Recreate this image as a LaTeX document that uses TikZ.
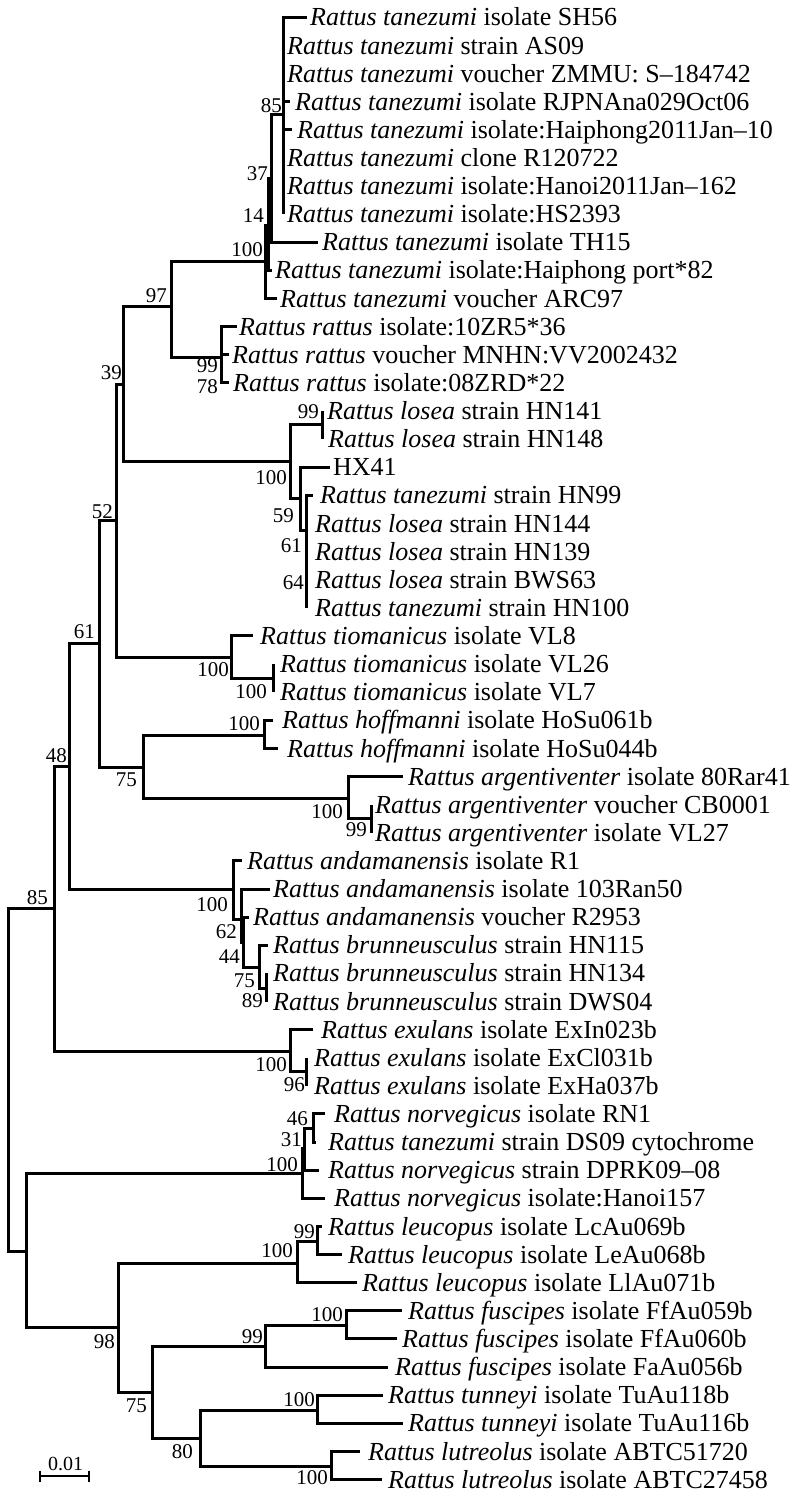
\documentclass[tikz,border=0pt]{standalone}
\usepackage{fontspec}
\setmainfont{Liberation Serif}
\begin{document}
\begin{tikzpicture}[x=1pt,y=-1pt,
  br/.style={line width=3pt},
  leaf/.style={anchor=base west, inner sep=0pt, font=\fontsize{26}{26}\selectfont},
  bs/.style={anchor=east, inner sep=0pt, font=\fontsize{21}{21}\selectfont}]
\useasboundingbox (0,0) rectangle (800,1499);
% leaves
\foreach \i/\tx/\lx/\sp/\rest in {
1/307/310/tanezumi/isolate SH56,
2/283/287/tanezumi/strain AS09,
3/283/287/tanezumi/voucher ZMMU: S–184742,
4/290/295/tanezumi/isolate RJPNAna029Oct06,
5/292/297/tanezumi/isolate:Haiphong2011Jan–10,
6/283/287/tanezumi/clone R120722,
7/283/287/tanezumi/isolate:Hanoi2011Jan–162,
8/283/287/tanezumi/isolate:HS2393,
9/318/322/tanezumi/isolate TH15,
10/272/275/tanezumi/isolate:Haiphong port*82,
11/277/280/tanezumi/voucher ARC97,
12/237/239/rattus/isolate:10ZR5*36,
13/229/232/rattus/voucher MNHN:VV2002432,
14/229/233/rattus/isolate:08ZRD*22,
15/322/327/losea/strain HN141,
16/322/328/losea/strain HN148,
18/313/320/tanezumi/strain HN99,
19/306/315/losea/strain HN144,
20/306/315/losea/strain HN139,
21/306/315/losea/strain BWS63,
22/306/315/tanezumi/strain HN100,
23/253/260/tiomanicus/isolate VL8,
24/273/280/tiomanicus/isolate VL26,
25/273/280/tiomanicus/isolate VL7,
26/273/282/hoffmanni/isolate HoSu061b,
27/278/287/hoffmanni/isolate HoSu044b,
28/403/408/argentiventer/isolate 80Rar41,
29/371/375/argentiventer/voucher CB0001,
30/371/375/argentiventer/isolate VL27,
31/242/247/andamanensis/isolate R1,
32/270/273/andamanensis/isolate 103Ran50,
33/249/253/andamanensis/voucher R2953,
34/268/273/brunneusculus/strain HN115,
35/266/273/brunneusculus/strain HN134,
36/266/273/brunneusculus/strain DWS04,
37/313/321/exulans/isolate ExIn023b,
38/306/314/exulans/isolate ExCl031b,
39/306/314/exulans/isolate ExHa037b,
40/325/334/norvegicus/isolate RN1,
41/316/328/tanezumi/strain DS09 cytochrome,
42/319/328/norvegicus/strain DPRK09–08,
43/325/334/norvegicus/isolate:Hanoi157,
44/322/328/leucopus/isolate LcAu069b,
45/342/348/leucopus/isolate LeAu068b,
46/357/362/leucopus/isolate LlAu071b,
47/402/408/fuscipes/isolate FfAu059b,
48/397/402/fuscipes/isolate FfAu060b,
49/388/395/fuscipes/isolate FaAu056b,
50/383/388/tunneyi/isolate TuAu118b,
51/403/408/tunneyi/isolate TuAu116b,
52/360/368/lutreolus/isolate ABTC51720,
53/382/388/lutreolus/isolate ABTC27458}{
  \pgfmathsetmacro\yy{17.3+28.12*(\i-1)}
  \coordinate (l\i) at (\tx,\yy);
  \node[leaf] (t\i) at (\lx,\yy+8.6) {\textit{Rattus \sp} \rest};
}
\pgfmathsetmacro\yy{17.3+28.12*16}
\coordinate (l17) at (330,\yy);
\node[leaf] (t17) at (333,\yy+8.6) {HX41};
% internal nodes
\coordinate (nA85) at (283,114);
\coordinate (nA37) at (271.7,178);
\coordinate (nA14) at (268,225);
\coordinate (nA100) at (265,261);
\coordinate (nB99) at (221,357);
\coordinate (n97) at (171,306);
\coordinate (nC99) at (322,424);
\coordinate (nC61) at (306,530);
\coordinate (nC59) at (300,498);
\coordinate (nC100) at (290,461);
\coordinate (n39) at (123,384);
\coordinate (nD100b) at (273,678);
\coordinate (nD100) at (231,657);
\coordinate (n52) at (116,520);
\coordinate (nE100) at (264,735);
\coordinate (nE99) at (371,818);
\coordinate (nE100b) at (348,798);
\coordinate (nE75) at (143,767);
\coordinate (n61) at (99,643);
\coordinate (nF89) at (266,988);
\coordinate (nF75) at (259,967);
\coordinate (nF44) at (243,942);
\coordinate (nF62) at (241,919);
\coordinate (nF100) at (233,889);
\coordinate (n48) at (69,766);
\coordinate (nG96) at (306,1071);
\coordinate (nG100) at (290,1051);
\coordinate (n85) at (54,908);
\coordinate (nH46) at (313,1128);
\coordinate (nH31) at (304,1148);
\coordinate (nH100) at (302,1173);
\coordinate (nI99) at (317,1241);
\coordinate (nI100) at (297,1263);
\coordinate (nJ100) at (346,1325);
\coordinate (nJ99) at (265,1346);
\coordinate (nK100) at (317,1410);
\coordinate (nL100) at (331,1466);
\coordinate (nK80) at (200,1438);
\coordinate (nJ75) at (152,1392);
\coordinate (nI98) at (118,1327);
\coordinate (nR2) at (26,1251);
\coordinate (root) at (8,1080);
% branches
\foreach \p/\c in {nA85/l1,nA85/l2,nA85/l3,nA85/l4,nA85/l5,nA85/l6,nA85/l7,nA85/l8,
  nA37/nA85,nA37/l9,nA14/nA37,nA14/l10,nA100/nA14,nA100/l11,
  nB99/l12,nB99/l13,nB99/l14,n97/nA100,n97/nB99,
  nC99/l15,nC99/l16,nC61/l18,nC61/l19,nC61/l20,nC61/l21,nC61/l22,
  nC59/l17,nC59/nC61,nC100/nC99,nC100/nC59,n39/n97,n39/nC100,
  nD100b/l24,nD100b/l25,nD100/l23,nD100/nD100b,n52/n39,n52/nD100,
  nE100/l26,nE100/l27,nE99/l29,nE99/l30,nE100b/l28,nE100b/nE99,
  nE75/nE100,nE75/nE100b,n61/n52,n61/nE75,
  nF89/l35,nF89/l36,nF75/l34,nF75/nF89,nF44/l33,nF44/nF75,
  nF62/l32,nF62/nF44,nF100/l31,nF100/nF62,n48/n61,n48/nF100,
  nG96/l38,nG96/l39,nG100/l37,nG100/nG96,n85/n48,n85/nG100,
  nH46/l40,nH46/l41,nH31/nH46,nH31/l42,nH100/nH31,nH100/l43,
  nI99/l44,nI99/l45,nI100/nI99,nI100/l46,
  nJ100/l47,nJ100/l48,nJ99/nJ100,nJ99/l49,
  nK100/l50,nK100/l51,nL100/l52,nL100/l53,nK80/nK100,nK80/nL100,
  nJ75/nJ99,nJ75/nK80,nI98/nI100,nI98/nJ75,nR2/nH100,nR2/nI98,
  root/n85,root/nR2}{
  \draw[br] (\p) |- (\c);
}
% bootstrap values
\node[bs] (b1) at (282,106) {85};
\node[bs] (b2) at (268,174) {37};
\node[bs] (b3) at (264,216) {14};
\node[bs] (b4) at (263,250) {100};
\node[bs] (b5) at (167,296) {97};
\node[bs] (b6) at (218,366) {99};
\node[bs] (b7) at (218,387) {78};
\node[bs] (b8) at (122,373) {39};
\node[bs] (b9) at (319,412) {99};
\node[bs] (b10) at (287,478) {100};
\node[bs] (b11) at (294,516) {59};
\node[bs] (b12) at (302,546) {61};
\node[bs] (b13) at (304,583) {64};
\node[bs] (b14) at (113,512) {52};
\node[bs] (b15) at (95,632) {61};
\node[bs] (b16) at (229,670) {100};
\node[bs] (b17) at (267,692) {100};
\node[bs] (b18) at (260,724) {100};
\node[bs] (b19) at (67,756) {48};
\node[bs] (b20) at (137,780) {75};
\node[bs] (b21) at (343,812) {100};
\node[bs] (b22) at (367,830) {99};
\node[bs] (b23) at (48,898) {85};
\node[bs] (b24) at (228,905) {100};
\node[bs] (b25) at (237,932) {62};
\node[bs] (b26) at (240,957) {44};
\node[bs] (b27) at (255,981) {75};
\node[bs] (b28) at (263,1001) {89};
\node[bs] (b29) at (287,1065) {100};
\node[bs] (b30) at (305,1085) {96};
\node[bs] (b31) at (308,1119) {46};
\node[bs] (b32) at (302,1140) {31};
\node[bs] (b33) at (298,1165) {100};
\node[bs] (b34) at (315,1232) {99};
\node[bs] (b35) at (293,1251) {100};
\node[bs] (b36) at (343,1315) {100};
\node[bs] (b37) at (263,1337) {99};
\node[bs] (b38) at (115,1342) {98};
\node[bs] (b39) at (315,1400) {100};
\node[bs] (b40) at (147,1406) {75};
\node[bs] (b41) at (193,1452) {80};
\node[bs] (b42) at (328,1478) {100};
% scale bar
\coordinate (s0) at (40,1476);
\coordinate (s1) at (89,1476);
\draw[line width=2.2pt] (s0) -- (s1);
\draw[line width=2.2pt] ([yshift=5.5pt]s0) -- ([yshift=-5.5pt]s0);
\draw[line width=2.2pt] ([yshift=5.5pt]s1) -- ([yshift=-5.5pt]s1);
\node[font=\fontsize{20}{20}\selectfont, inner sep=0pt] (sl) at (65.5,1464) {0.01};
\end{tikzpicture}
\end{document}
